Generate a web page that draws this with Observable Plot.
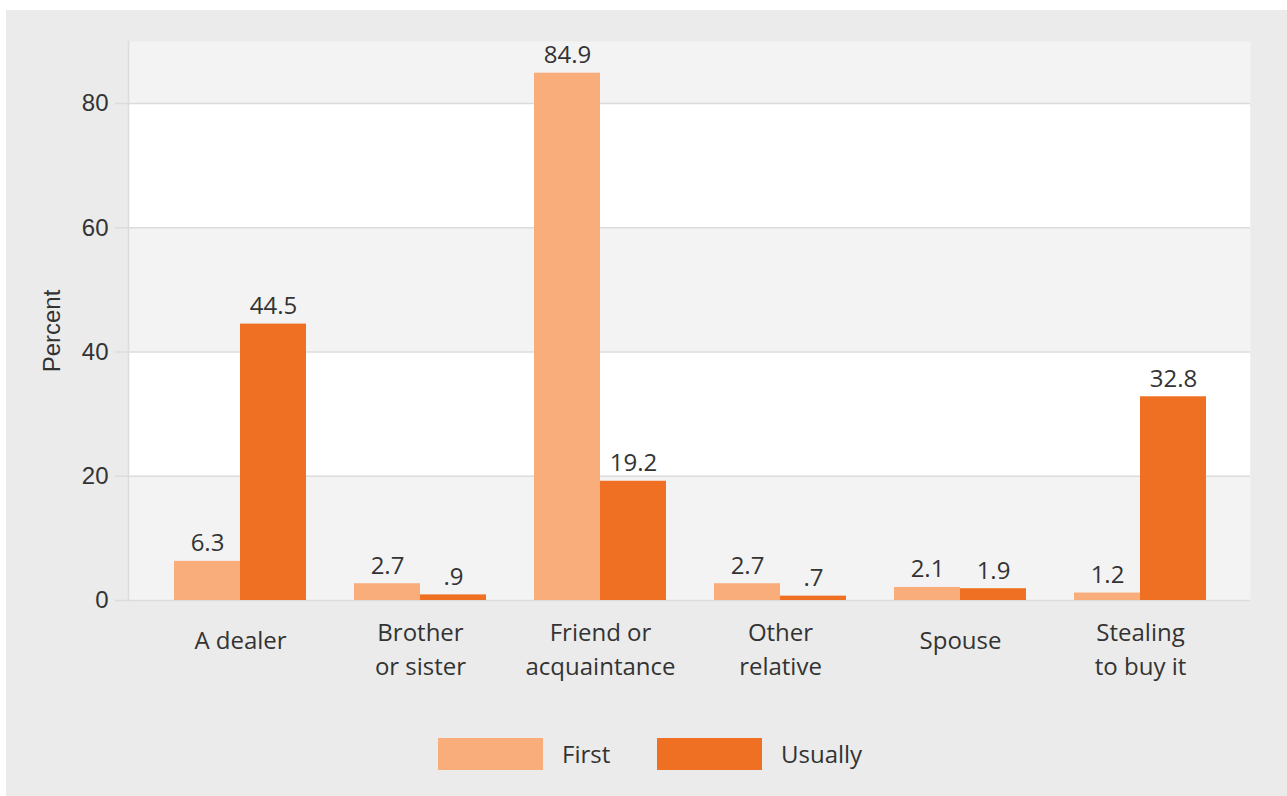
<!DOCTYPE html>
<html>
<head>
<meta charset="utf-8">
<script src="https://cdn.jsdelivr.net/npm/d3@7"></script>
<script src="https://cdn.jsdelivr.net/npm/@observablehq/plot@0.6"></script>
<style>
  html, body { margin: 0; padding: 0; background: #ffffff; }
  #wrap { position: absolute; left: 6px; top: 10px; width: 1281px; height: 786px; background: #ebebeb; }
  #legend { display: flex; align-items: center; padding-left: 432px; margin-top: 37px; font-family: "Open Sans", sans-serif; font-size: 24px; color: #333; }
  .sw { width: 105px; height: 32px; margin-right: 19px; }
  .lb { width: 95px; }
</style>
</head>
<body>
<div id="wrap"></div>
<script>
const categories = ["A dealer", "Brother or sister", "Friend or acquaintance", "Other relative", "Spouse", "Stealing to buy it"];
const tickLabels = ["A dealer", "Brother\nor sister", "Friend or\nacquaintance", "Other\nrelative", "Spouse", "Stealing\nto buy it"];
const firstValues = [6.3, 2.7, 84.9, 2.7, 2.1, 1.2];
const usuallyValues = [44.5, 0.9, 19.2, 0.7, 1.9, 32.8];
const seriesNames = ["First", "Usually"];
const seriesColors = ["#f9ad7b", "#f07023"];
const yTicks = [0, 20, 40, 60, 80];
const whiteBands = [[20, 40], [60, 80]];

const fmt = v => d3.format(".1f")(v).replace(/^0\./, ".");
const rows = [];
categories.forEach((c, i) => {
  rows.push({cat: c, series: seriesNames[0], value: firstValues[i]});
  rows.push({cat: c, series: seriesNames[1], value: usuallyValues[i]});
});
const firstRows = rows.filter(d => d.series === "First");
const usualRows = rows.filter(d => d.series === "Usually");
const labelOf = c => tickLabels[categories.indexOf(c)];
const twoLine = categories.filter(c => labelOf(c).includes("\n"));
const oneLine = categories.filter(c => !labelOf(c).includes("\n"));

const chart = Plot.plot({
  width: 1281,
  height: 690,
  marginLeft: 122,
  marginRight: 37,
  marginTop: 31,
  marginBottom: 100,
  style: {fontFamily: "Open Sans, sans-serif", fontSize: "24px", background: "transparent", color: "#333"},
  x: {domain: categories, padding: 0, insetLeft: 22, insetRight: 20, label: null},
  y: {domain: [0, 90], label: null},
  color: {domain: seriesNames, range: seriesColors},
  marks: [
    Plot.frame({fill: "#f3f3f3", stroke: null}),
    Plot.rectY(whiteBands, {y1: d => d[0], y2: d => d[1], fill: "#ffffff"}),
    Plot.ruleY(yTicks, {stroke: "#dcdcdc", strokeWidth: 1.5, insetLeft: -13}),
    Plot.frame({anchor: "left", stroke: "#dcdcdc", strokeWidth: 1.5}),
    Plot.barY(firstRows, {x: "cat", y: "value", fill: "series", insetLeft: 24, insetRight: 90}),
    Plot.barY(usualRows, {x: "cat", y: "value", fill: "series", insetLeft: 90, insetRight: 24}),
    Plot.text(firstRows, {x: "cat", y: "value", text: d => fmt(d.value), dx: -33, dy: -10, lineAnchor: "bottom", fontSize: 24, fill: "#333"}),
    Plot.text(usualRows, {x: "cat", y: "value", text: d => fmt(d.value), dx: 33, dy: -10, lineAnchor: "bottom", fontSize: 24, fill: "#333"}),
    Plot.axisY({ticks: yTicks, tickSize: 0, tickPadding: 20, fontSize: 24, fontFamily: "Liberation Sans, Arial, sans-serif", fill: "#333", label: null}),
    Plot.axisX({ticks: twoLine, tickSize: 0, tickPadding: 24, fontSize: 24, fill: "#333", lineHeight: 1.42, lineAnchor: "middle", dy: 23, tickFormat: labelOf, label: null}),
    Plot.axisX({ticks: oneLine, tickSize: 0, tickPadding: 24, fontSize: 24, fill: "#333", lineAnchor: "middle", dy: 17, tickFormat: labelOf, label: null}),
    Plot.text(["Percent"], {frameAnchor: "left", textAnchor: "middle", text: d => d, rotate: -90, dx: -76, dy: 10, fontSize: 24, fontFamily: "Liberation Sans, Arial, sans-serif", fill: "#333"})
  ]
});

const wrap = document.getElementById("wrap");
wrap.appendChild(chart);
const legend = document.createElement("div");
legend.id = "legend";
seriesNames.forEach((name, i) => {
  const sw = document.createElement("div");
  sw.className = "sw";
  sw.style.background = seriesColors[i];
  const lb = document.createElement("span");
  lb.className = "lb";
  lb.textContent = name;
  legend.appendChild(sw);
  legend.appendChild(lb);
});
wrap.appendChild(legend);
</script>
</body>
</html>
